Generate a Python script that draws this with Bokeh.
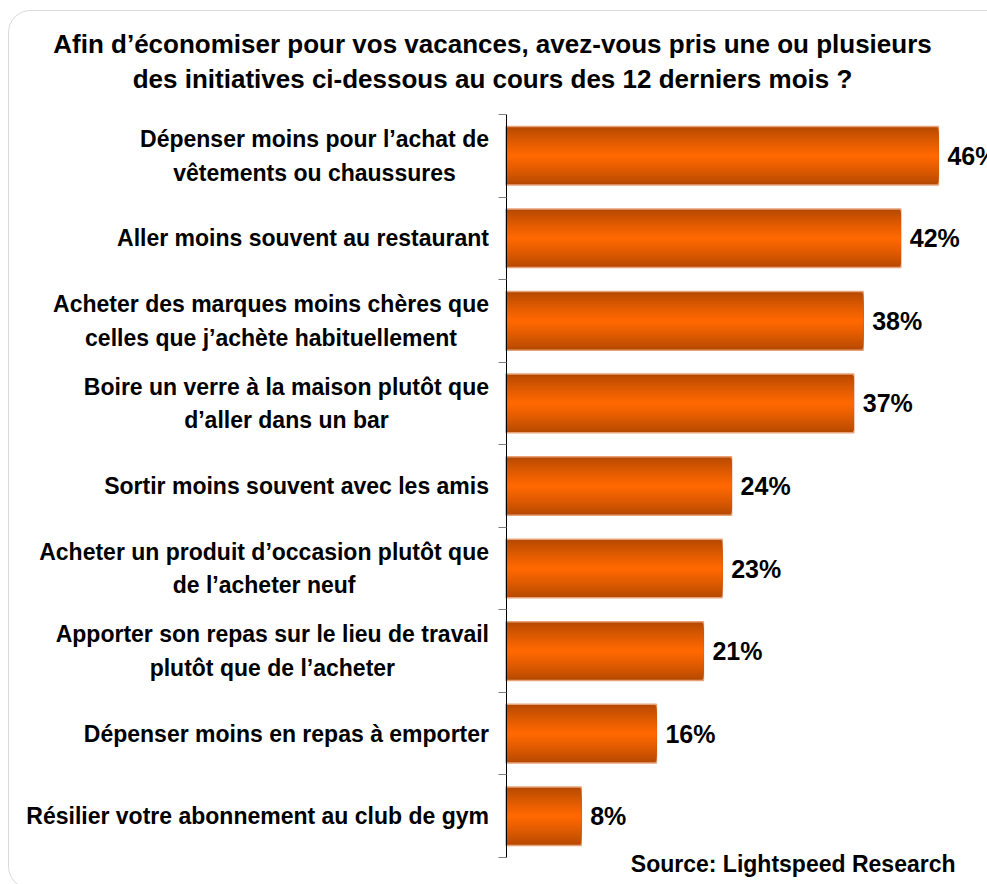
from bokeh.plotting import figure
from bokeh.models import (Range1d, LinearAxis, FixedTicker, BoxAnnotation, ColumnDataSource,
                          CustomJSTickFormatter)
from bokeh.core.properties import value
from bokeh.embed import file_html
from bokeh.resources import INLINE

# ---------------- data ----------------
title_lines = [
    "Afin d’économiser pour vos vacances, avez-vous pris une ou plusieurs",
    "des initiatives ci-dessous au cours des 12 derniers mois ?",
]
categories = [
    "Dépenser moins pour l’achat de\nvêtements ou chaussures",
    "Aller moins souvent au restaurant",
    "Acheter des marques moins chères que\ncelles que j’achète habituellement",
    "Boire un verre à la maison plutôt que\nd’aller dans un bar",
    "Sortir moins souvent avec les amis",
    "Acheter un produit d’occasion plutôt que\nde l’acheter neuf",
    "Apporter son repas sur le lieu de travail\nplutôt que de l’acheter",
    "Dépenser moins en repas à emporter",
    "Résilier votre abonnement au club de gym",
]
values = [46, 42, 38, 37, 24, 23, 21, 16, 8]
value_labels = [f"{v}%" for v in values]
source_note = "Source: Lightspeed Research"

# ---------------- layout constants (pixels) ----------------
W, H = 987, 884
AXIS_PX = 505.5      # canvas x of the value axis (0 %)
PX_PER_PCT = 9.40
FRAME_BOTTOM_PX = 857.0
BAND_PX = 82.56
n = len(categories)

def px_x(cx):
    return (cx - AXIS_PX) / PX_PER_PCT

def px_y(cy):
    return (FRAME_BOTTOM_PX - cy) / BAND_PX

FONT = value("Liberation Sans")

p = figure(width=W, height=H, output_backend="svg", toolbar_location=None,
           x_range=Range1d(px_x(0), px_x(W)), y_range=Range1d(px_y(H), px_y(0)),
           x_axis_location=None, y_axis_location=None,
           min_border=0, min_border_left=0, min_border_right=0,
           min_border_top=0, min_border_bottom=0)
p.outline_line_color = None
p.grid.visible = False
p.background_fill_color = "white"
p.border_fill_color = "white"

ys = [n - i - 0.5 for i in range(n)]
src = ColumnDataSource(dict(y=ys, cat=categories, val=values, lab=value_labels))

# rounded frame around the chart
box = BoxAnnotation(left=px_x(8), right=px_x(W + 40), top=px_y(10), bottom=px_y(888),
                    fill_color=None, line_color="#858585", line_width=1)
try:
    box.border_radius = 22
except Exception:
    pass
p.add_layout(box)

# bars with a vertical orange gradient (stacked layers)
BAR_H = 0.71
N = 16
dark = (0xB4, 0x48, 0x00)
bright = (0xFF, 0x68, 0x00)
for k in range(N):
    t = k / (N - 1)
    f = t ** 0.85
    col = "#%02x%02x%02x" % tuple(int(round(d + (b - d) * f)) for d, b in zip(dark, bright))
    h = BAR_H * (1 - k / N)
    if k == 0:
        p.hbar(y="y", right="val", left=0, height=h, source=src, fill_color=col,
               line_color="#e7a27a", line_width=1.5)
    else:
        p.hbar(y="y", right="val", left=0, height=h, source=src, fill_color=col,
               line_color=None)

# value axis with ticks at category boundaries
yaxis = LinearAxis(fixed_location=0, ticker=FixedTicker(ticks=list(range(n + 1))),
                   bounds=(0, n), major_tick_in=0, major_tick_out=8,
                   minor_tick_line_color=None,
                   formatter=CustomJSTickFormatter(code="return ''"),
                   axis_line_color="black", axis_line_width=1,
                   major_tick_line_color="#7f7f7f", major_tick_line_width=1)
p.add_layout(yaxis, "left")

# category labels
p.text(x=0, y="y", text="cat", source=src, x_offset=-17,
       anchor=value("center_right"), text_align="center", text_baseline="middle",
       text_font=FONT, text_font_style="bold", text_font_size="23px",
       text_line_height=1.3, text_color="black")

# value labels
p.text(x="val", y="y", text="lab", source=src, x_offset=9,
       text_align="left", text_baseline="middle",
       text_font=FONT, text_font_style="bold", text_font_size="25px", text_color="black")

# title
tsrc = ColumnDataSource(dict(x=[px_x(492)] * 2, y=[px_y(43.5), px_y(78.5)], t=title_lines))
p.text(x="x", y="y", text="t", source=tsrc, text_align="center", text_baseline="middle",
       text_font=FONT, text_font_style="bold", text_font_size="26px", text_color="black")

# source note
ssrc = ColumnDataSource(dict(x=[px_x(955)], y=[px_y(863)], t=[source_note]))
p.text(x="x", y="y", text="t", source=ssrc, text_align="right", text_baseline="middle",
       text_font=FONT, text_font_style="bold", text_font_size="23px", text_color="black")

open("out.html", "w").write(file_html(p, INLINE))
